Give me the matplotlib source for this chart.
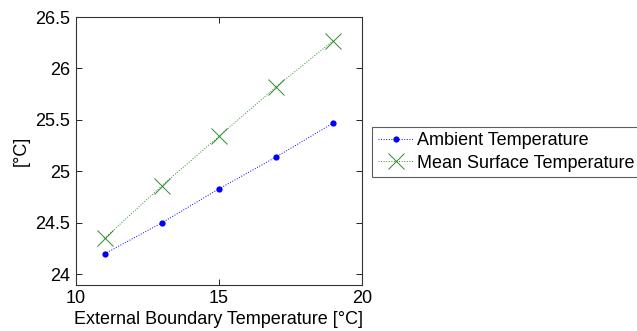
import matplotlib
matplotlib.use("Agg")
import matplotlib.pyplot as plt

plt.rcParams['font.family'] = ['Liberation Sans', 'DejaVu Sans']

boundary_temp = [11, 13, 15, 17, 19]
ambient_temp = [24.20, 24.50, 24.83, 25.14, 25.47]
surface_temp = [24.35, 24.86, 25.34, 25.82, 26.27]
y_ticks = [24, 24.5, 25, 25.5, 26, 26.5]
x_ticks = [10, 15, 20]

fig = plt.figure(figsize=(6.37, 3.31), dpi=100)
ax = fig.add_axes([0.1193, 0.1399, 0.4485, 0.8087])

ax.plot(boundary_temp, ambient_temp, linestyle=':', color='#0000ff', linewidth=0.7,
        marker='o', markersize=4.5, markeredgewidth=0, label='Ambient Temperature')
ax.plot(boundary_temp, surface_temp, linestyle=':', color='#2e8b2e', linewidth=0.7,
        marker='x', markersize=12, markeredgewidth=0.7, label='Mean Surface Temperature')

ax.set_xlim(10, 20)
ax.set_ylim(23.9, 26.5)
ax.set_xticks(x_ticks)
ax.set_yticks(y_ticks)
ax.set_yticklabels(['24', '24.5', '25', '25.5', '26', '26.5'])
ax.tick_params(direction='in', length=4, width=0.6, top=True, right=True,
               labelsize=13, colors='black', pad=4)
for sp in ax.spines.values():
    sp.set_color('#333333')
    sp.set_linewidth(0.8)

ax.set_xlabel('External Boundary Temperature [°C]', fontsize=13, labelpad=3)
ax.set_ylabel('[°C]', fontsize=13, labelpad=4)

leg = fig.legend(loc='upper left', bbox_to_anchor=(0.5845, 0.617),
                 bbox_transform=fig.transFigure, fontsize=13, frameon=True,
                 fancybox=False, handlelength=2.0, handletextpad=0.15,
                 borderpad=0.3, labelspacing=0.3, borderaxespad=0)
leg.get_frame().set_edgecolor('#333333')
leg.get_frame().set_linewidth(0.8)

fig.savefig('out.png', dpi=100)
